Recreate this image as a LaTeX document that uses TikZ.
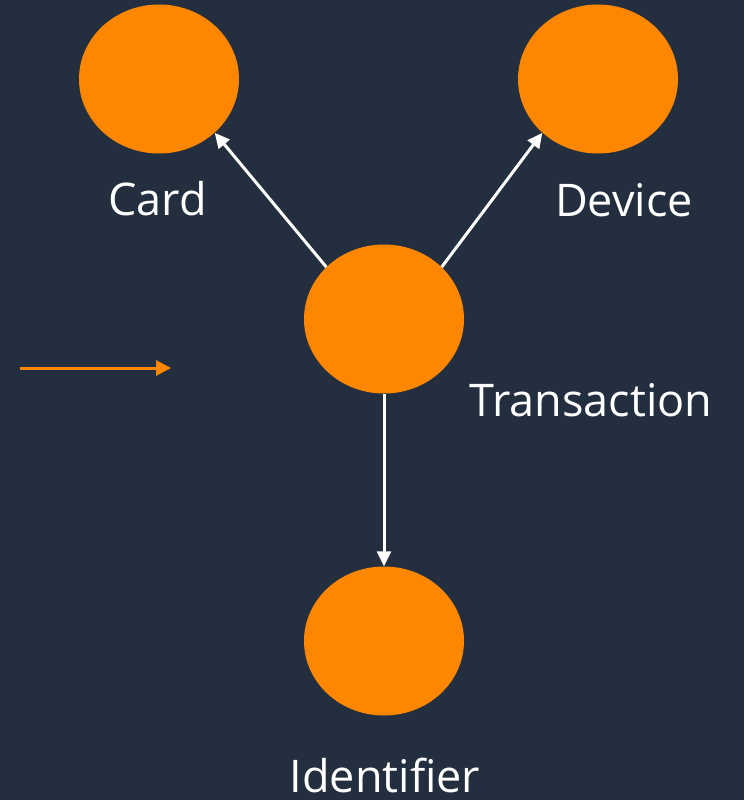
\documentclass[tikz,border=0pt]{standalone}
\usepackage{fontspec}
\setmainfont{Open Sans}[Ligatures=NoCommon]
\usetikzlibrary{arrows.meta,shapes.geometric}
\definecolor{navy}{RGB}{35,47,62}
\definecolor{vivid}{RGB}{255,135,0}
\begin{document}
\begin{tikzpicture}[x=1pt,y=-1pt,
  entity/.style={ellipse,fill=vivid,minimum width=160pt,minimum height=149pt,inner sep=0pt},
  label/.style={text=white,font=\fontsize{45}{45}\selectfont,anchor=base,inner sep=0pt},
  link/.style={draw=white,line width=3pt,-{Triangle[length=15pt,width=14pt]}}]
  \fill[navy] (0,0) rectangle (744,800);
  \useasboundingbox (0,0) rectangle (744,800);

  % entities
  \node[entity] (card)  at (159,79)  {};
  \node[entity] (device) at (598,79) {};
  \node[entity] (trans) at (384,319) {};
  \node[entity] (ident) at (384,641) {};

  % captions
  \node[label] (cardlbl)  at (157.5,215) {Card};
  \node[label] (devlbl)   at (624,216)   {Device};
  \node[label] (translbl) at (591,416)   {Transaction};
  \node[label] (identlbl) at (385,792)   {Identifier};

  % relations
  \draw[link] (trans.138) -- (card.-44);
  \draw[link] (trans.42) -- (device.224);
  \draw[link] (trans.south) -- (ident.north);

  % legend arrow
  \coordinate (legA) at (20,368);
  \coordinate (legB) at (171,368);
  \draw[draw=vivid,line width=3pt,-{Triangle[length=15pt,width=15pt]}] (legA) -- (legB);
\end{tikzpicture}
\end{document}
